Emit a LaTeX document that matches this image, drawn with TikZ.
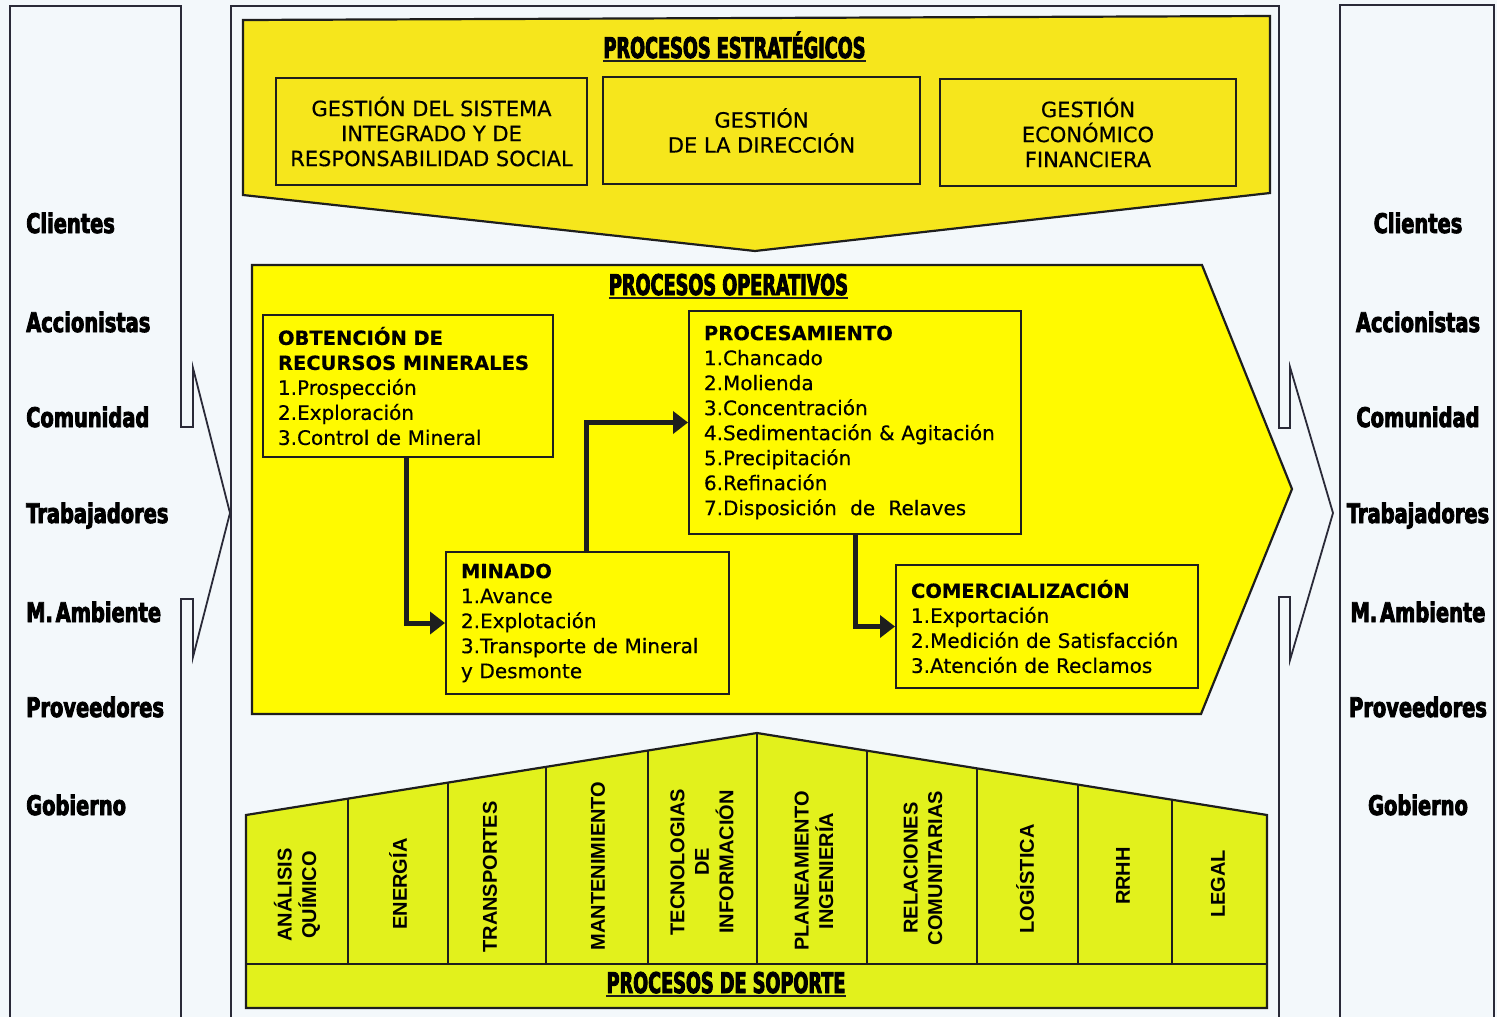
\documentclass[tikz,border=0pt]{standalone}
\usepackage{fontspec}
\setmainfont{DejaVu Sans}[FakeBold=0.4]
\newfontfamily\heavyT{DejaVu Sans Bold}[FakeStretch=0.62,FakeBold=3]
\newfontfamily\heavyL{DejaVu Sans Bold}[FakeStretch=0.72,FakeBold=3]
\newfontfamily\arialf{Liberation Sans}
\newcommand\hdf{\bfseries\fontsize{19.5}{25}\selectfont}
\usetikzlibrary{arrows.meta,calc}
\definecolor{bgc}{HTML}{F3F8FB}
\definecolor{ystrat}{HTML}{F6E61C}
\definecolor{yoper}{HTML}{FFFA00}
\definecolor{ysup}{HTML}{E2F11C}
\definecolor{ink}{HTML}{1E1E1E}
\definecolor{frm}{HTML}{2A2A38}
\begin{document}
\begin{tikzpicture}[x=1pt,y=-1pt,
  frame/.style={draw=frm,line width=1.8pt,line join=miter},
  poly/.style={draw=ink,line width=2.2pt,line join=miter},
  sbox/.style={draw=ink,line width=2pt,fill=ystrat,align=center,inner sep=0pt,
    font=\fontsize{21}{25}\selectfont},
  obox/.style={draw=ink,line width=2pt,fill=yoper,align=left,inner xsep=15pt,inner ysep=0pt,
    font=\fontsize{20}{25}\selectfont},
  vtxt/.style={rotate=90,align=center,inner sep=0pt,font=\arialf\bfseries\fontsize{20}{24.5}\selectfont},
  ttl/.style={inner sep=0pt,anchor=base,font=\heavyT\fontsize{28.5}{28}\selectfont},
  lab/.style={inner sep=0pt,font=\heavyL\fontsize{27}{27}\selectfont},
  uline/.style={line width=2.4pt,ink},
  flow/.style={draw=ink,line width=5pt,-{Triangle[length=15pt,width=22pt]}}
]
\useasboundingbox (0,0) rectangle (1497,1017);
\fill[bgc] (0,0) rectangle (1497,1017);

% side frames
\draw[frame] (10,1030) -- (10,6) -- (181,6) -- (181,427) -- (193,427) -- (193,368) -- (230,513) -- (193,657) -- (193,599) -- (181,599) -- (181,1030);
\draw[frame] (231,1030) -- (231,6) -- (1279,6) -- (1279,428) -- (1290,428) -- (1290,367) -- (1333,513) -- (1290,660) -- (1290,597) -- (1279,597) -- (1279,1030);
\draw[frame] (1340,1030) -- (1340,5) -- (1494,5) -- (1494,1030);

% strategic
\filldraw[poly,fill=ystrat] (243,20) -- (1270,16) -- (1270,193) -- (755,251) -- (243,195) -- cycle;
\node[ttl] (tst) at (734.5,58) {PROCESOS ESTRATÉGICOS};
\draw[uline] ([yshift=-3pt]tst.base west) -- ([yshift=-3pt]tst.base east);
\node[sbox,minimum width=311pt,minimum height=107pt] (s1) at (431.5,131.5) {GESTIÓN DEL SISTEMA\\INTEGRADO Y DE\\RESPONSABILIDAD\ SOCIAL};
\node[sbox,minimum width=317pt,minimum height=107pt] (s2) at (761.5,130.5) {GESTIÓN\\DE LA\ DIRECCIÓN};
\node[sbox,minimum width=296pt,minimum height=107pt] (s3) at (1088,132.5) {GESTIÓN\\ECONÓMICO\\FINANCIERA};

% operative
\filldraw[poly,fill=yoper] (252,265) -- (1202,265) -- (1292,489) -- (1201,714) -- (252,714) -- cycle;
\node[ttl] (top) at (728.5,295) {PROCESOS OPERATIVOS};
\draw[uline] ([yshift=-3pt]top.base west) -- ([yshift=-3pt]top.base east);

\node[obox,minimum height=142pt,text width=260pt] (obt) at (408,386)
  {{\hdf OBTENCIÓN DE}\\{\hdf RECURSOS MINERALES}\\1.Prospección\\2.Exploración\\3.Control de Mineral};
\node[obox,minimum height=223pt,text width=302pt] (proc) at (855,422.5)
  {{\hdf PROCESAMIENTO}\\1.Chancado\\2.Molienda\\3.Concentración\\\mbox{4.Sedimentación \& Agitación}\\5.Precipitación\\6.Refinación\\\mbox{7.Disposición\ \ de\ \ Relaves}};
\node[obox,minimum height=142pt,text width=253pt] (min) at (587.5,623)
  {{\hdf MINADO}\\1.Avance\\2.Explotación\\\mbox{3.Transporte de Mineral}\\y Desmonte};
\node[obox,minimum height=123pt,text width=272pt] (com) at (1047,626.5)
  {{\hdf COMERCIALIZACIÓN}\\1.Exportación\\\mbox{2.Medición de Satisfacción}\\3.Atención de Reclamos};

\draw[flow] ([xshift=144pt]obt.south west) |- (min.west);
\draw[flow] ([xshift=141pt]min.north west) |- (proc.west);
\draw[flow] ([xshift=167pt]proc.south west) |- (com.west);

% support
\filldraw[poly,fill=ysup] (246,815) -- (757,733) -- (1267,815) -- (1267,1008) -- (246,1008) -- cycle;
\draw[poly] (246,964) -- (1267,964);
\foreach \xx/\yy in {348/798.6,448/782.6,546/766.9,648/750.5,757/733,867/750.7,977/768.4,1078/784.6,1172/799.7}
  \draw[poly,line width=2pt] (\xx,964) -- (\xx,\yy);
\node[vtxt] (c1) at (297,895) {ANÁLISIS\\QUÍMICO};
\node[vtxt] (c2) at (398,884) {ENERGÍA};
\node[vtxt] (c3) at (490,877) {TRANSPORTES};
\node[vtxt] (c4) at (598,866) {MANTENIMIENTO};
\node[vtxt] (c5) at (702,862) {TECNOLOGIAS\\DE\\INFORMACIÓN};
\node[vtxt] (c6) at (814,871) {PLANEAMIENTO\\INGENIERÍA};
\node[vtxt] (c7) at (923,868) {RELACIONES\\COMUNITARIAS};
\node[vtxt] (c8) at (1025,879) {LOGÍSTICA};
\node[vtxt] (c9) at (1123,876) {RRHH};
\node[vtxt] (c10) at (1218,884) {LEGAL};
\node[ttl] (tsp) at (726,993) {PROCESOS DE SOPORTE};
\draw[uline] ([yshift=-3pt]tsp.base west) -- ([yshift=-3pt]tsp.base east);

% stakeholders
\foreach \n/\t/\b in {1/Clientes/233,2/Accionistas/332,3/Comunidad/427,4/Trabajadores/523,5/{M.\hspace{-4pt} Ambiente}/622,6/Proveedores/717,7/Gobierno/815}{
  \node[lab,anchor=base west] (L\n) at (26,\b) {\t};
  \node[lab,anchor=base] (R\n) at (1418,\b) {\t};
}
\end{tikzpicture}
\end{document}
